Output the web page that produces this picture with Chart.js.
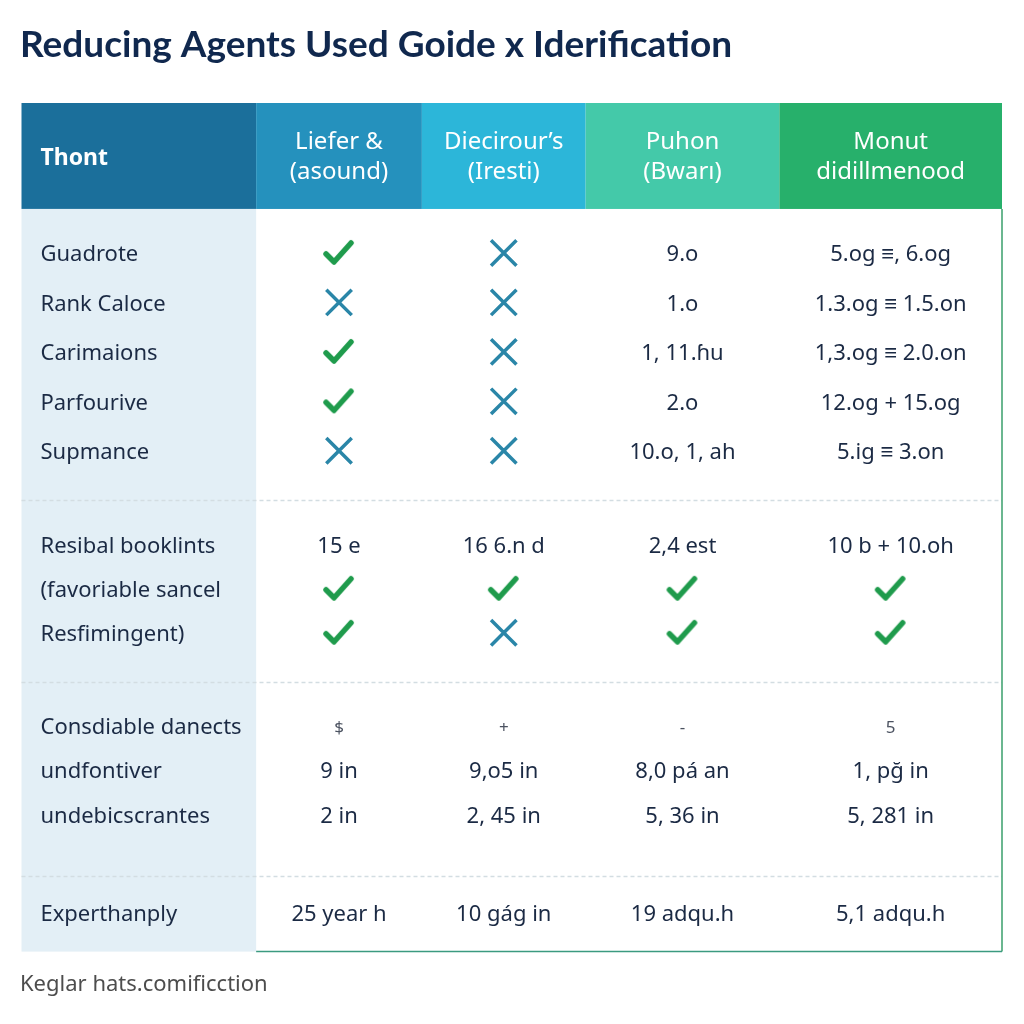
<!DOCTYPE html>
<html>
<head>
<meta charset="utf-8">
<script src="https://cdn.jsdelivr.net/npm/chart.js@4.4.1/dist/chart.umd.min.js"></script>
<style>
  html, body { margin: 0; padding: 0; background: #ffffff; }
</style>
</head>
<body>
<canvas id="tableChart" width="1024" height="1024"></canvas>
<script>
// ----------------------------------------
// Datos de la tabla
// ----------------------------------------
const titleText = 'Reducing Agents Used Goide x Iderification';
const sourceText = 'Keglar hats.comificction';

const columnHeaders = [
  ['Thont'],
  ['Liefer &', '(asound)'],
  ['Diecirour’s', '(Iresti)'],
  ['Puhon', '(Bwarı)'],
  ['Monut', 'didillmenood']
];

// Y = check, N = cross
const propertyLabels = ['Guadrote', 'Rank Caloce', 'Carimaions', 'Parfourive', 'Supmance'];
const propertyCells = [
  ['Y', 'N', '9.o', '5.og ≡, 6.og'],
  ['N', 'N', '1.o', '1.3.og ≡ 1.5.on'],
  ['Y', 'N', '1, 11.ɦu', '1,3.og ≡ 2.0.on'],
  ['Y', 'N', '2.o', '12.og + 15.og'],
  ['N', 'N', '10.o, 1, ah', '5.ig ≡ 3.on']
];

const residualLabels = ['Resibal booklints', '(favoriable sancel', 'Resfimingent)'];
const residualCells = [
  ['15 e', '16 6.n d', '2,4 est', '10 b + 10.oh'],
  ['Y', 'Y', 'Y', 'Y'],
  ['Y', 'N', 'Y', 'Y']
];

const costLabels = ['Consdiable danects', 'undfontiver', 'undebicscrantes'];
const costCells = [
  ['$', '+', '-', '5'],
  ['9 in', '9,o5 in', '8,0 pá an', '1, pğ in'],
  ['2 in', '2, 45 in', '5, 36 in', '5, 281 in']
];

const expertLabels = ['Experthanply'];
const expertCells = [
  ['25 year h', '10 gág in', '19 adqu.h', '5,1 adqu.h']
];

// ----------------------------------------
// Layout (anchos de columna y alturas de sección, en unidades de escala)
// ----------------------------------------
const colWidths = [235, 166, 164, 194, 223];
const headerHeight = 106;
const sections = [
  { labels: propertyLabels, cells: propertyCells, height: 291, first: 46, step: 49.5 },
  { labels: residualLabels, cells: residualCells, height: 182, first: 47, step: 44 },
  { labels: costLabels,     cells: costCells,     height: 194, first: 46, step: 44.5 },
  { labels: expertLabels,   cells: expertCells,   height: 76,  first: 39, step: 0 }
];
const smallRows = ['Consdiable danects'];   // fila de símbolos pequeños

const headerColors = ['#1b6f9b', '#2591bd', '#2cb6d9', '#44c9a9', '#27b06b'];
const textColor = '#1b2a44';
const bodyFont = '"Noto Sans", "Open Sans", sans-serif';

const tableWidth = colWidths.reduce((a, b) => a + b, 0);
const tableHeight = headerHeight + sections.reduce((a, s) => a + s.height, 0);

const colStarts = [];
colWidths.reduce((acc, w) => { colStarts.push(acc); return acc + w; }, 0);
const colCenter = i => colStarts[i] + colWidths[i] / 2;

// filas: posición vertical de cada fila
const rows = [];
const sectionTops = [];
let sectionTop = headerHeight;
sections.forEach(sec => {
  sectionTops.push(sectionTop);
  sec.labels.forEach((label, k) => {
    rows.push({ label, cells: sec.cells[k], y: sectionTop + sec.first + k * sec.step });
  });
  sectionTop += sec.height;
});

// puntos de check / cross
const checkPoints = [];
const crossPoints = [];
rows.forEach(r => {
  r.cells.forEach((v, c) => {
    if (v === 'Y') checkPoints.push({ x: colCenter(c + 1), y: r.y - 2 });
    if (v === 'N') crossPoints.push({ x: colCenter(c + 1), y: r.y - 2 });
  });
});

// icono de check como pointStyle
function makeCheck() {
  const cv = document.createElement('canvas');
  cv.width = 36; cv.height = 30;
  const c = cv.getContext('2d');
  c.strokeStyle = '#1f9b4c';
  c.lineWidth = 5.5;
  c.lineCap = 'round';
  c.lineJoin = 'round';
  c.beginPath();
  c.moveTo(5, 16);
  c.lineTo(13, 24);
  c.lineTo(30, 5);
  c.stroke();
  return cv;
}

// ----------------------------------------
// Plugin: fondos y líneas de la tabla
// ----------------------------------------
const tableBackground = {
  id: 'tableBackground',
  beforeDatasetsDraw(chart) {
    const { ctx, scales: { x, y } } = chart;
    ctx.save();
    // cabecera
    colWidths.forEach((w, i) => {
      const x0 = x.getPixelForValue(colStarts[i]);
      const x1 = x.getPixelForValue(colStarts[i] + w);
      const y0 = y.getPixelForValue(0);
      const y1 = y.getPixelForValue(headerHeight);
      ctx.fillStyle = headerColors[i];
      ctx.fillRect(x0, y0, x1 - x0, y1 - y0);
    });
    // primera columna
    const lx0 = x.getPixelForValue(0), lx1 = x.getPixelForValue(colWidths[0]);
    const by0 = y.getPixelForValue(headerHeight), by1 = y.getPixelForValue(tableHeight);
    ctx.fillStyle = '#e3eff6';
    ctx.fillRect(lx0, by0, lx1 - lx0, by1 - by0);

    // separadores de sección
    ctx.strokeStyle = '#d3dde2';
    ctx.lineWidth = 1.5;
    ctx.setLineDash([4, 3]);
    sectionTops.slice(1).forEach(t => {
      const yy = Math.round(y.getPixelForValue(t)) + 0.5;
      ctx.beginPath();
      ctx.moveTo(x.getPixelForValue(0), yy);
      ctx.lineTo(x.getPixelForValue(tableWidth), yy);
      ctx.stroke();
    });
    ctx.setLineDash([]);

    // borde derecho e inferior
    const rx = x.getPixelForValue(tableWidth);
    ctx.strokeStyle = '#3a9f6b';
    ctx.lineWidth = 1.5;
    ctx.beginPath();
    ctx.moveTo(rx, by0);
    ctx.lineTo(rx, by1);
    ctx.stroke();
    ctx.strokeStyle = '#3b9a80';
    ctx.beginPath();
    ctx.moveTo(lx1, by1);
    ctx.lineTo(rx, by1);
    ctx.stroke();
    ctx.restore();
  }
};

// ----------------------------------------
// Plugin: textos de cabecera y celdas
// ----------------------------------------
const tableText = {
  id: 'tableText',
  afterDatasetsDraw(chart) {
    const { ctx, scales: { x, y } } = chart;
    ctx.save();
    ctx.textBaseline = 'middle';
    const hy = y.getPixelForValue(headerHeight / 2);

    // cabecera
    columnHeaders.forEach((lines, i) => {
      ctx.fillStyle = '#ffffff';
      if (i === 0) {
        ctx.textAlign = 'left';
        ctx.font = 'bold 23px ' + bodyFont;
        ctx.fillText(lines[0], x.getPixelForValue(19), hy + 2);
        return;
      }
      ctx.textAlign = 'center';
      ctx.font = '24px ' + bodyFont;
      const cx = x.getPixelForValue(colCenter(i));
      lines.forEach((ln, k) => {
        ctx.fillText(ln, cx, hy + 1 + (k - (lines.length - 1) / 2) * 30);
      });
    });

    // filas
    rows.forEach(r => {
      const py = y.getPixelForValue(r.y);
      ctx.fillStyle = textColor;
      ctx.textAlign = 'left';
      ctx.font = '22px ' + bodyFont;
      ctx.fillText(r.label, x.getPixelForValue(19), py);
      const small = smallRows.includes(r.label);
      ctx.textAlign = 'center';
      ctx.font = (small ? '17px ' : '22px ') + bodyFont;
      ctx.fillStyle = small ? '#4b5260' : textColor;
      r.cells.forEach((v, c) => {
        if (v === 'Y' || v === 'N') return;
        ctx.fillText(v, x.getPixelForValue(colCenter(c + 1)), py);
      });
    });
    ctx.restore();
  }
};

// ----------------------------------------
// Gráfico
// ----------------------------------------
const ctx = document.getElementById('tableChart').getContext('2d');
const tableChart = new Chart(ctx, {
  type: 'scatter',
  data: {
    datasets: [
      {
        label: 'check',
        data: checkPoints,
        pointStyle: makeCheck(),
        pointRadius: 15
      },
      {
        label: 'cross',
        data: crossPoints,
        pointStyle: 'crossRot',
        pointRadius: 18,
        borderColor: '#2a86a8',
        backgroundColor: '#2a86a8',
        borderWidth: 3.5
      }
    ]
  },
  options: {
    responsive: false,
    animation: false,
    events: [],
    layout: { padding: { left: 20, right: 22, top: 0, bottom: 0 } },
    scales: {
      x: { type: 'linear', display: false, min: 0, max: tableWidth },
      y: { type: 'linear', display: false, min: 0, max: tableHeight, reverse: true }
    },
    plugins: {
      legend: { display: false },
      tooltip: { enabled: false },
      title: {
        display: true,
        text: titleText,
        align: 'start',
        color: '#10284e',
        font: { family: 'Lato', size: 37, weight: 'bold' },
        padding: { top: 23, bottom: 35.6 }
      },
      subtitle: {
        display: true,
        text: sourceText,
        position: 'bottom',
        align: 'start',
        color: '#4d4d4d',
        font: { family: '"Noto Sans", sans-serif', size: 22 },
        padding: { top: 20, bottom: 26 }
      }
    }
  },
  plugins: [tableBackground, tableText]
});
</script>
</body>
</html>
